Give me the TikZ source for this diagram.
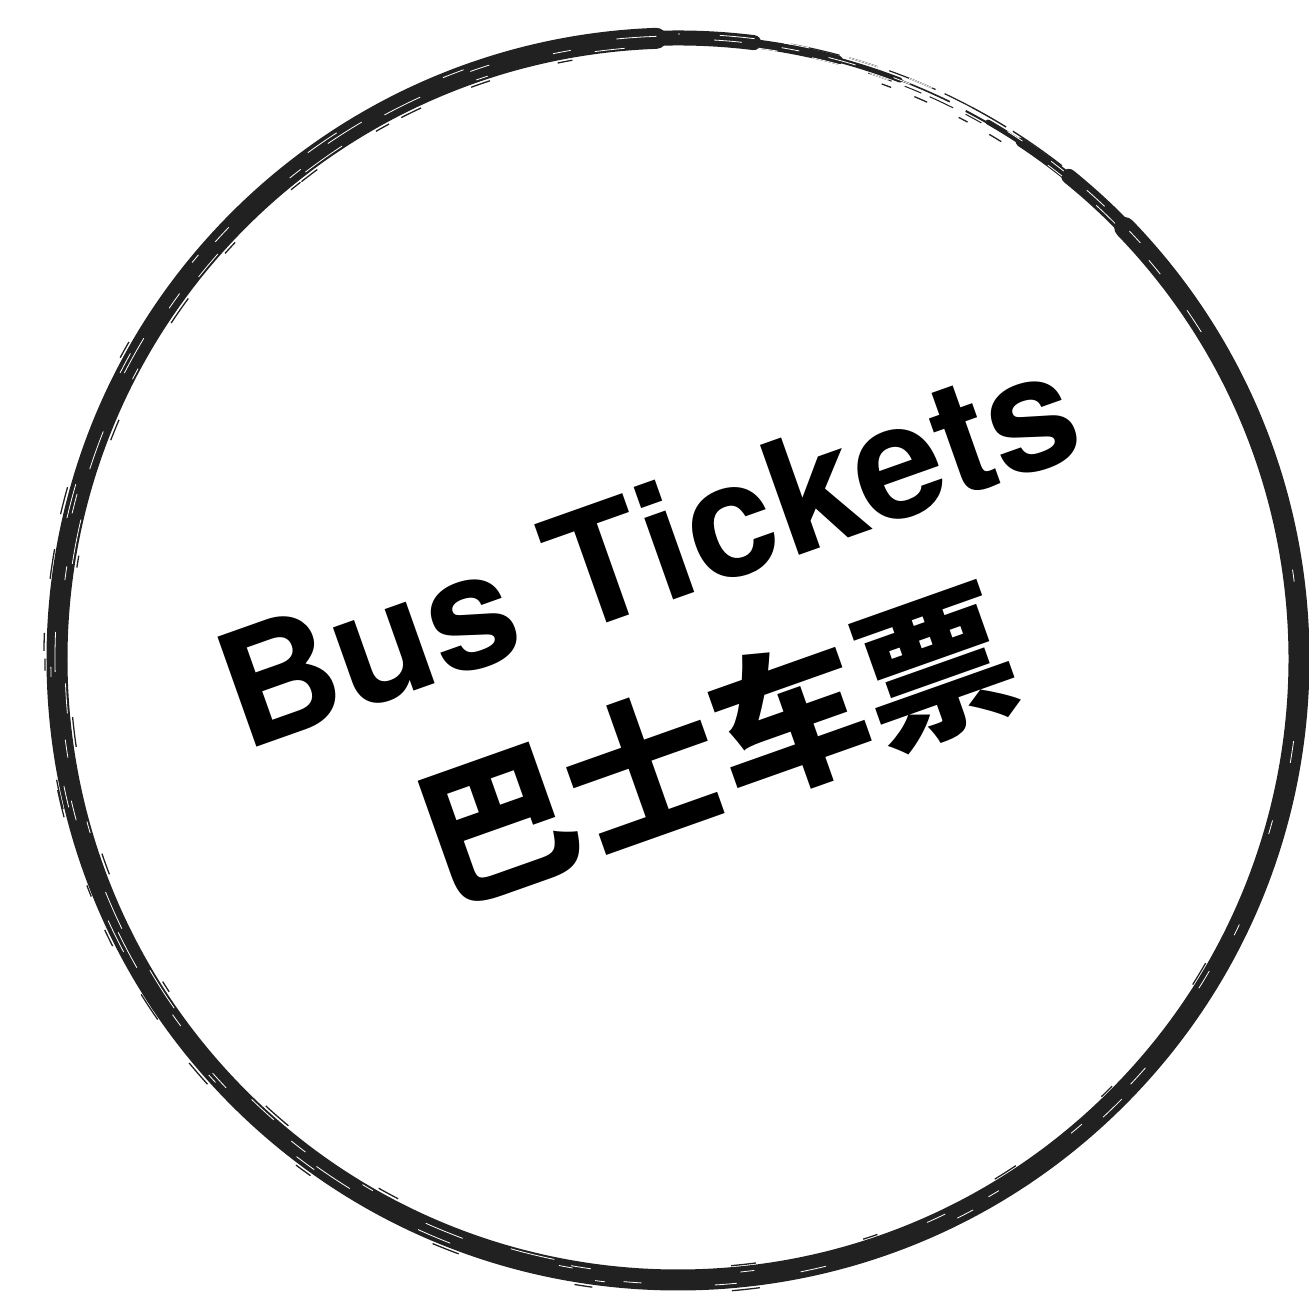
\documentclass[tikz,border=0pt]{standalone}
\usepackage{fontspec}
\newfontfamily\enbold{texgyreheros-bold.otf}
\newfontfamily\cjk{Noto Sans CJK SC}
\definecolor{ink}{HTML}{212121}
\begin{document}
\begin{tikzpicture}[x=1pt,y=1pt,
  brush/.style={draw=ink, line cap=round},
  streak/.style={draw=white, line cap=butt},
  strand/.style={draw=ink, line cap=butt}]
\useasboundingbox (0,0) rectangle (1309,1292);
\coordinate (c) at (678,633);
% main brush ring: it starts thin just right of the gap at the top right,
% runs clockwise all the way round and thins out again before the gap
\draw[brush, line width=21pt] (c) ++(44:621) arc[start angle=44, end angle=-268, radius=621];
\draw[brush, line width=15pt] (c) ++(51:621) arc[start angle=51, end angle=-277, radius=621];
\draw[brush, line width=9pt]  (c) ++(56.5:620) arc[start angle=56.5, end angle=-285, radius=620];
\draw[brush, line width=5pt]  (c) ++(60:620) arc[start angle=60, end angle=-291, radius=621];
\draw[strand, line width=2pt] (c) ++(62.3:619) arc[start angle=62.3, end angle=50, radius=619];
\draw[strand, line width=1.4pt, dash pattern=on 40pt off 8pt on 60pt off 10pt] (c) ++(62:625) arc[start angle=62, end angle=48, radius=625];
\draw[strand, line width=1.6pt] (c) ++(-296:620) arc[start angle=-296, end angle=-285, radius=620];
\draw[strand, line width=1.2pt, dash pattern=on 30pt off 10pt on 50pt off 12pt] (c) ++(-298:625) arc[start angle=-298, end angle=-280, radius=625];
\draw[strand, line width=1pt, dash pattern=on 18pt off 14pt on 26pt off 9pt] (c) ++(-299.5:616) arc[start angle=-299.5, end angle=-288, radius=616];
% dry-brush streaks inside the ring
\foreach \r/\s/\e/\pat in {
  613/95/262/{on 30pt off 110pt on 12pt off 150pt on 45pt off 120pt},
  618/100/270/{on 18pt off 140pt on 40pt off 100pt on 14pt off 160pt},
  623/92/250/{on 40pt off 130pt on 20pt off 120pt},
  627/110/280/{on 22pt off 120pt on 35pt off 150pt on 10pt off 110pt},
  616/-100/-10/{on 20pt off 150pt on 14pt off 180pt},
  625/-95/-40/{on 18pt off 160pt on 26pt off 140pt},
  621/-60/10/{on 12pt off 170pt on 22pt off 160pt},
  625/66/90/{on 25pt off 30pt on 35pt off 40pt},
  620/68/88/{on 18pt off 40pt on 28pt off 30pt},
  616/70/85/{on 20pt off 30pt on 30pt off 35pt},
  622/42/58/{on 16pt off 35pt on 24pt off 30pt},
  617/32/55/{on 26pt off 45pt on 18pt off 50pt}}
  \draw[streak, line width=0.8pt, dash pattern/.expanded=\pat] (c) ++(\s:\r) arc[start angle=\s, end angle=\e, radius=\r];
% ragged edges: short loose strands hugging the ring
\foreach \r/\s/\e/\pat in {
  608/115/245/{on 22pt off 120pt on 12pt off 150pt on 30pt off 110pt},
  634/150/285/{on 18pt off 140pt on 28pt off 120pt},
  609/-85/-20/{on 25pt off 110pt on 15pt off 130pt},
  608/100/140/{on 15pt off 70pt on 20pt off 90pt},
  633/170/215/{on 30pt off 80pt on 12pt off 110pt},
  610/58/72/{on 14pt off 25pt on 10pt off 35pt}}
  \draw[strand, line width=1.3pt, dash pattern/.expanded=\pat] (c) ++(\s:\r) arc[start angle=\s, end angle=\e, radius=\r];
% text
\node[anchor=base, rotate=19.5, inner sep=0pt, text=black,
      font=\fontsize{160}{160}\selectfont\enbold] (en) at (667,690) {Bus Tickets};
\node[anchor=center, rotate=19.5, inner sep=0pt, text=black,
      font=\fontsize{155}{155}\selectfont\cjk\bfseries] (zh) at (716,548) {巴士车票};
\end{tikzpicture}
\end{document}
